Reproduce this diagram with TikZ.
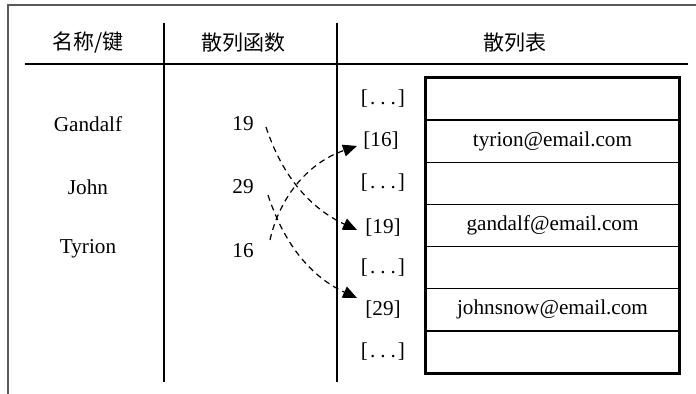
\documentclass[tikz,border=0pt]{standalone}
\usepackage{fontspec}
\setmainfont{Liberation Serif}
\newfontfamily\cjk{Noto Sans CJK SC}
\usetikzlibrary{arrows.meta,calc}
\begin{document}
\begin{tikzpicture}[x=0.5pt,y=-0.5pt,
  txt/.style={inner sep=2pt,font=\fontsize{10.6pt}{12pt}\selectfont},
  hdr/.style={inner sep=2pt,font=\fontsize{10.5pt}{12pt}\selectfont\cjk},
  rule/.style={line width=0.75pt},
  frame/.style={line width=0.75pt,draw=black!65},
  cell/.style={draw,line width=0.7pt,minimum width=126.5pt,minimum height=21.07pt,inner sep=0pt,font=\fontsize{10.6pt}{12pt}\selectfont},
  link/.style={line width=0.6pt,dash pattern=on 3pt off 2.2pt,-{Triangle[length=7pt,width=6pt]}}]
\useasboundingbox (0,0) rectangle (696,394);
% outer frame
\draw[frame] (8,394) -- (8,5) -- (696,5);
% rules
\draw[rule] (25,64) -- (688,64);
\draw[rule] (164,23) -- (164,382);
\draw[rule] (337,23) -- (337,382);
% headers
\node[hdr] (h1) at (88,43) {名称/键};
\node[hdr] (h2) at (243,43) {散列函数};
\node[hdr] (h3) at (515,43) {散列表};
% keys
\node[txt] (kg) at (88,124) {Gandalf};
\node[txt] (kj) at (88,187) {John};
\node[txt] (kt) at (88,249) {Tyrion};
% hash values
\node[txt] (v19) at (243,124) {19};
\node[txt] (v29) at (243,187) {29};
\node[txt] (v16) at (243,251) {16};
% table cells
\node[cell] (r1) at (552.5,99.07) {};
\node[cell] (r2) at (552.5,141.21) {tyrion@email.com};
\node[cell] (r3) at (552.5,183.36) {};
\node[cell] (r4) at (552.5,225.5) {gandalf@email.com};
\node[cell] (r5) at (552.5,267.64) {};
\node[cell] (r6) at (552.5,309.79) {johnsnow@email.com};
\node[cell] (r7) at (552.5,351.93) {};
\draw[line width=0.9pt] (r1.north west) rectangle (r7.south east);
% indices
\newcommand{\dotsidx}{[\kern0.1em.\kern0.23em.\kern0.23em.\kern0.1em]}
\node[txt] (i1) at (383,99) {\dotsidx};
\node[txt] (i16) at (381,141) {[16]};
\node[txt] (i3) at (383,183) {\dotsidx};
\node[txt] (i19) at (383,228) {[19]};
\node[txt] (i5) at (383,268) {\dotsidx};
\node[txt] (i29) at (383,310) {[29]};
\node[txt] (i7) at (383,352) {\dotsidx};
% connector end points
\coordinate (s19) at (266,127);
\coordinate (s29) at (268,195);
\coordinate (s16) at (270,240);
\coordinate (e19) at (357,230);
\coordinate (e29) at (357,298);
\coordinate (e16) at (357,146);
\draw[link] (s19) .. controls (285,185) and (318,212) .. (e19);
\draw[link] (s29) .. controls (287,253) and (318,280) .. (e29);
\draw[link] (s16) .. controls (280,195) and (310,162) .. (e16);
\end{tikzpicture}
\end{document}
